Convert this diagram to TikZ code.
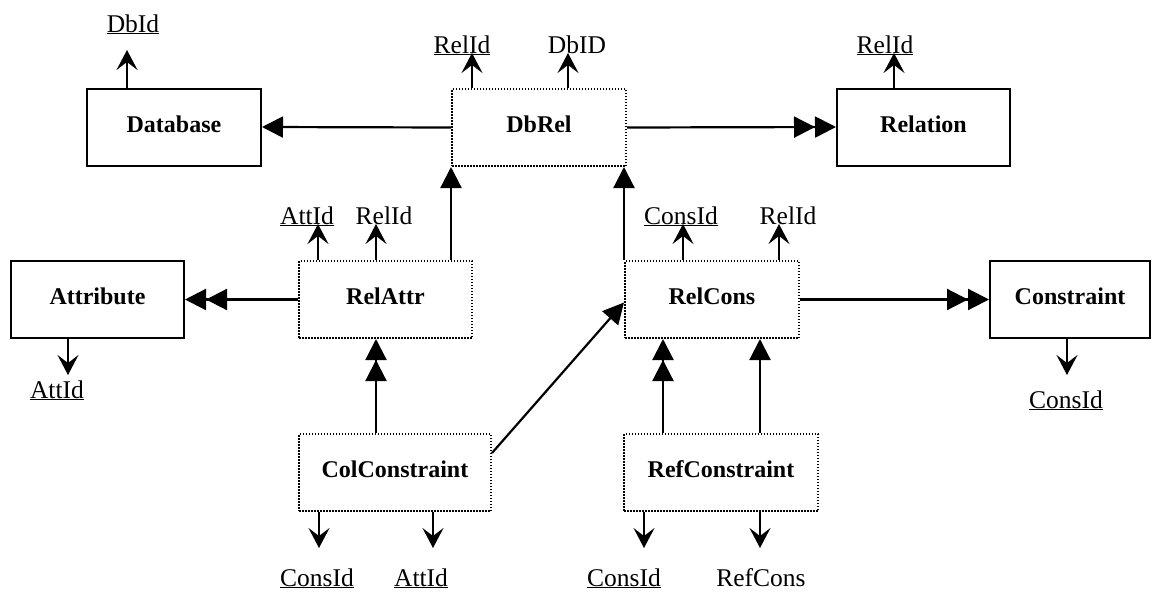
\documentclass[tikz,border=0pt]{standalone}
\usepackage{fontspec}
\setmainfont{Liberation Serif}
\usetikzlibrary{arrows.meta}
\tikzset{
  entity/.style={draw, line width=2pt, minimum width=174pt, minimum height=77pt, inner sep=0pt,
    font=\bfseries\fontsize{24}{28}\selectfont, text height=15pt, text depth=5pt},
  relship/.style={entity, line width=2pt, dash pattern=on 1.5pt off 1.5pt},
  attr/.style={font=\fontsize{25.5}{30}\selectfont, inner sep=0pt, anchor=base},
  link/.style={line width=2.2pt, -{Triangle[length=21pt,width=21pt]}},
  dbl/.style={line width=2.2pt, -{Triangle[length=21pt,width=21pt]Triangle[length=21pt,width=21pt]}},
  stub/.style={line width=1.8pt, -{Stealth[length=20pt,width=21pt,inset=8pt]}},
}
\begin{document}
\begin{tikzpicture}[x=1pt, y=-1pt]
      \useasboundingbox (0,0) rectangle (1152,592);
      % entities and relationships
      \node[entity]  (db)      at (174,127)     {Database};
      \node[relship] (dbrel)   at (539,127.5)   {DbRel};
      \node[entity, minimum width=173pt]  (rel)     at (923.5,127)   {Relation};
      \node[entity, minimum width=173pt]  (att)     at (97.5,299.5)  {Attribute};
      \node[relship, minimum width=173pt] (relattr) at (385.5,299.5) {RelAttr};
      \node[relship] (relcons) at (712,299.5)   {RelCons};
      \node[entity, minimum width=160pt]  (cons)    at (1070,299.5)  {Constraint};
      \node[relship, minimum width=192pt] (colcons) at (395,472.5)   {ColConstraint};
      \node[relship, minimum width=194pt] (refcons) at (721,472.5)   {RefConstraint};
      % attributes
      \node[attr] (dbid)  at (133,32)   {\underline{DbId}};
      \node[attr] (rid1)  at (462,53)   {\underline{RelId}};
      \node[attr] (dbid2) at (577,53)   {DbID};
      \node[attr] (rid2)  at (885,53)   {\underline{RelId}};
      \node[attr] (aid1)  at (57,398)   {\underline{AttId}};
      \node[attr] (aid2)  at (307,224)  {\underline{AttId}};
      \node[attr] (rid3)  at (384,224)  {RelId};
      \node[attr] (cid1)  at (681,224)  {\underline{ConsId}};
      \node[attr] (rid4)  at (788,224)  {RelId};
      \node[attr] (cid2)  at (1066,408) {\underline{ConsId}};
      \node[attr] (cid3)  at (317,586)  {\underline{ConsId}};
      \node[attr] (aid3)  at (421,586)  {\underline{AttId}};
      \node[attr] (cid4)  at (624,586)  {\underline{ConsId}};
      \node[attr] (rcons) at (761,586)  {RefCons};
      % links
      \draw[link] (dbrel.west) -- (db.east);
      \draw[dbl]  (dbrel.east) -- (rel.west);
      \draw[dbl]  (relattr.west) -- (att.east);
      \draw[dbl]  (relcons.east) -- (cons.west);
      \draw[link] (relattr.north -| dbrel.south west) -- (dbrel.south west);
      \draw[link] (relcons.north west) -- (relcons.north west |- dbrel.south);
      \draw[dbl]  ([xshift=-19pt]colcons.north) -- ([xshift=-19pt]colcons.north |- relattr.south);
      \draw[link] ([yshift=19.5pt]colcons.east) -- ([yshift=-3pt]relcons.west);
      \draw[dbl]  ([xshift=-58pt]refcons.north) -- ([xshift=-58pt]refcons.north |- relcons.south);
      \draw[link] ([xshift=39pt]refcons.north) -- ([xshift=39pt]refcons.north |- relcons.south);
      % attribute stubs
      \draw[stub] ([xshift=-47pt]db.north) -- ([xshift=-47pt,yshift=-18pt]db.north |- dbid.base);
      \draw[stub] ([xshift=-67pt]dbrel.north) -- ([xshift=-67pt]dbrel.north |- rid1.base);
      \draw[stub] ([xshift=29pt]dbrel.north) -- ([xshift=29pt]dbrel.north |- dbid2.base);
      \draw[stub] ([xshift=-29.5pt]rel.north) -- ([xshift=-29.5pt]rel.north |- rid2.base);
      \draw[stub] ([xshift=-29.5pt]att.south) -- ([xshift=-29.5pt,yshift=23pt]att.south |- aid1.base);
      \draw[stub] ([xshift=-67.5pt]relattr.north) -- ([xshift=-67.5pt]relattr.north |- aid2.base);
      \draw[stub] ([xshift=-9.5pt]relattr.north) -- ([xshift=-9.5pt]relattr.north |- rid3.base);
      \draw[stub] ([xshift=-29pt]relcons.north) -- ([xshift=-29pt]relcons.north |- cid1.base);
      \draw[stub] ([xshift=67pt]relcons.north) -- ([xshift=67pt]relcons.north |- rid4.base);
      \draw[stub] ([xshift=-3pt]cons.south) -- ([xshift=-3pt,yshift=33pt]cons.south |- cid2.base);
      \draw[stub] ([xshift=-76pt]colcons.south) -- ([xshift=-76pt,yshift=38pt]colcons.south |- cid3.base);
      \draw[stub] ([xshift=38pt]colcons.south) -- ([xshift=38pt,yshift=38pt]colcons.south |- aid3.base);
      \draw[stub] ([xshift=-77pt]refcons.south) -- ([xshift=-77pt,yshift=38pt]refcons.south |- cid4.base);
      \draw[stub] ([xshift=39pt]refcons.south) -- ([xshift=39pt,yshift=38pt]refcons.south |- rcons.base);
    \end{tikzpicture}
\end{document}
